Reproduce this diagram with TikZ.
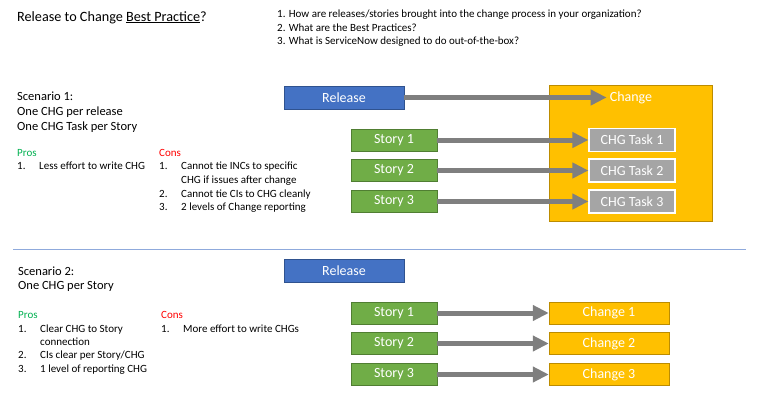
\documentclass[tikz,border=0pt]{standalone}
\usepackage{fontspec}
\setmainfont{Carlito}
\usepackage{tikz}
\usetikzlibrary{arrows.meta,shapes}
\usetikzlibrary{positioning}
\definecolor{relblue}{HTML}{4472C4}
\definecolor{relline}{HTML}{2F528F}
\definecolor{storygreen}{HTML}{70AD47}
\definecolor{storyline}{HTML}{507E32}
\definecolor{chgyellow}{HTML}{FFC000}
\definecolor{chgline}{HTML}{BC8C00}
\definecolor{taskgray}{HTML}{A5A5A5}
\definecolor{arrgray}{HTML}{7F7F7F}
\definecolor{progreen}{HTML}{00B050}
\definecolor{sepblue}{HTML}{8FAADC}
\tikzstyle{box}=[draw, inner sep=0pt, minimum height=22pt, text=white,
                font=\fontsize{14}{16}\selectfont]
\tikzstyle{rel}=[box, fill=relblue, draw=relline, minimum width=120pt,
                minimum height=23pt]
\tikzstyle{story}=[box, fill=storygreen, draw=storyline, minimum width=86pt]
\tikzstyle{task}=[box, fill=taskgray, draw=white, line width=1.2pt,
                minimum width=86pt, minimum height=23pt]
\tikzstyle{chg}=[box, fill=chgyellow, draw=chgline, minimum width=120pt]
\tikzstyle{fat}=[draw=arrgray, line width=5pt,
                -{Triangle[length=16pt,width=15pt]}]
\tikzstyle{txt}=[anchor=base west, inner sep=0pt, text=black,
                font=\fontsize{11}{13}\selectfont]
\tikzstyle{big}=[txt, font=\fontsize{12.5}{15}\selectfont]

\begin{document}
\begin{tikzpicture}[x=1pt,y=-1pt]
\useasboundingbox (0,0) rectangle (758,402);
% heading and questions
\node[txt, font=\fontsize{14.2}{17}\selectfont] (title) at (17,21)
  {Release to Change \underline{Best Practice}?};
\node[txt] (q1) at (277,17.5) {1. How are releases/stories brought into the change process in your organization?};
\node[txt] (q2) at (277,31) {2. What are the Best Practices?};
\node[txt] (q3) at (277,44.5) {3. What is ServiceNow designed to do out-of-the-box?};

% scenario 1
\node[big] (s1a) at (17,100) {Scenario 1:};
\node[big] (s1b) at (17,115) {One CHG per release};
\node[big] (s1c) at (17,130) {One CHG Task per Story};
\node[txt, text=progreen] (pro1) at (17,156) {Pros};
\node[txt] (pro1n1) at (17,169) {1.};
\node[txt] (pro1t1) at (39,169) {Less effort to write CHG};
\node[txt, text=red] (con1) at (159,156) {Cons};
\node[txt] (con1n1) at (159,169) {1.};
\node[txt] (con1t1) at (181,169) {Cannot tie INCs to specific};
\node[txt] (con1t1b) at (181,183) {CHG if issues after change};
\node[txt] (con1n2) at (159,197) {2.};
\node[txt] (con1t2) at (181,197) {Cannot tie CIs to CHG cleanly};
\node[txt] (con1n3) at (159,210) {3.};
\node[txt] (con1t3) at (181,210) {2 levels of Change reporting};

\node[rel] (rel1) at (344,97.5) {Release};
\node[chg, minimum width=163pt, minimum height=136pt] (chgbox) at (630.5,153) {};
\node[inner sep=3pt, text=white, font=\fontsize{14}{16}\selectfont] (chgl) at (631,97.5) {Change};
\foreach \i/\y in {1/140,2/170.5,3/201.5}{
  \node[story] (st\i) at (394,\y) {Story \i};
  \node[task] (tk\i) at (632,\y) {CHG Task \i};
}
\draw[fat] (rel1) -- (chgl);
\foreach \i in {1,2,3}
  \draw[fat] (st\i) -- (tk\i);

% separator
\coordinate (sepl) at (13,249);
\coordinate (sepr) at (746,249);
\draw[sepblue, line width=1pt] (sepl) -- (sepr);

% scenario 2
\node[big] (s2a) at (18,275) {Scenario 2:};
\node[big] (s2b) at (18,289) {One CHG per Story};
\node[txt, text=progreen] (pro2) at (18,318) {Pros};
\node[txt] (pro2n1) at (18,332) {1.};
\node[txt] (pro2t1) at (40,332) {Clear CHG to Story};
\node[txt] (pro2t1b) at (40,345) {connection};
\node[txt] (pro2n2) at (18,358) {2.};
\node[txt] (pro2t2) at (40,358) {CIs clear per Story/CHG};
\node[txt] (pro2n3) at (18,372) {3.};
\node[txt] (pro2t3) at (40,372) {1 level of reporting CHG};
\node[txt, text=red] (con2) at (161,318) {Cons};
\node[txt] (con2n1) at (161,332) {1.};
\node[txt] (con2t1) at (183,332) {More effort to write CHGs};

\node[rel] (rel2) at (344,270.5) {Release};
\foreach \i/\y in {1/313,2/343.5,3/374.5}{
  \node[story] (sx\i) at (394,\y) {Story \i};
  \node[chg] (ch\i) at (609,\y) {Change \i};
}
\foreach \i in {1,2,3}
  \draw[fat] (sx\i) -- (ch\i);
\end{tikzpicture}
\end{document}
